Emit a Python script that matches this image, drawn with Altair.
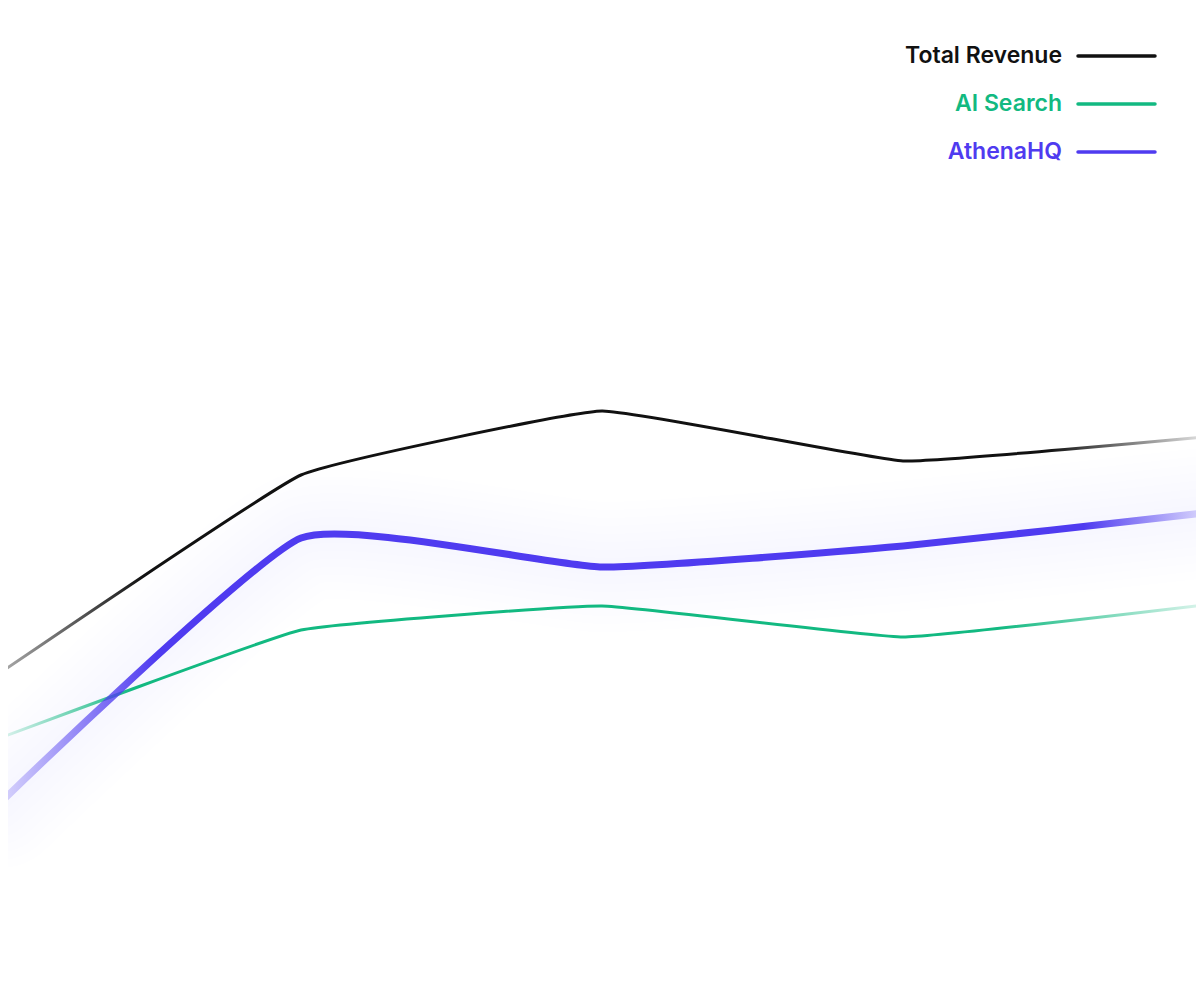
import altair as alt
import pandas as pd

# ---- data ----
period = [0, 1, 2, 3, 4]
total_revenue = [32.7, 52.5, 58.9, 53.9, 56.3]
ai_search = [26.2, 37.0, 39.4, 36.3, 39.5]
athenahq = [19.7, 46.2, 43.3, 45.4, 48.7]

series_names = ["Total Revenue", "AI Search", "AthenaHQ"]
series_colors = ["#111111", "#12B981", "#4F3BF0"]
glow_color = "#5D5CF2"

df = pd.DataFrame({
    "period": period * 3,
    "value": total_revenue + ai_search + athenahq,
    "series": sum([[n] * len(period) for n in series_names], []),
})

W, H = 1188, 984
x_scale = alt.Scale(domain=[8 / 301, 1196 / 301], nice=False, zero=False)
y_scale = alt.Scale(domain=[0.8, 99.2], nice=False, zero=False)


def rgba(hex_color, a):
    h = hex_color.lstrip("#")
    r, g, b = int(h[0:2], 16), int(h[2:4], 16), int(h[4:6], 16)
    return f"rgba({r},{g},{b},{a})"


def fade(color, a0, s0, s1, a1):
    return alt.Gradient(
        gradient="linear",
        x1=0, x2=1, y1=0, y2=0,
        stops=[
            alt.GradientStop(color=rgba(color, a0), offset=0),
            alt.GradientStop(color=rgba(color, 1), offset=s0),
            alt.GradientStop(color=rgba(color, 1), offset=s1),
            alt.GradientStop(color=rgba(color, a1), offset=1),
        ],
    )


def line_layer(name, stroke, width, opacity=1.0, tension=0.7):
    return (
        alt.Chart(df)
        .transform_filter(alt.datum.series == name)
        .mark_line(
            stroke=stroke,
            strokeWidth=width,
            strokeOpacity=opacity,
            interpolate="cardinal",
            tension=tension,
            strokeCap="round",
            strokeJoin="round",
            clip=True,
        )
        .encode(
            x=alt.X("period:Q", scale=x_scale, axis=None),
            y=alt.Y("value:Q", scale=y_scale, axis=None),
            order="period:Q",
        )
    )


layers = []
# soft glow around AthenaHQ (stacked translucent wide strokes)
for w in [18, 34, 50, 66, 82, 98, 114, 130]:
    layers.append(line_layer("AthenaHQ", glow_color, w, 0.0068, tension=0.55))

layers.append(line_layer("AI Search", fade(series_colors[1], 0.12, 0.11, 0.83, 0.15), 3))
layers.append(line_layer("Total Revenue", fade(series_colors[0], 0.35, 0.12, 0.87, 0.12), 3))
layers.append(line_layer("AthenaHQ", fade(series_colors[2], 0.18, 0.13, 0.90, 0.18), 7, tension=0.55))

# ---- legend (top right: label then line sample) ----
for i, (name, col) in enumerate(zip(series_names, series_colors)):
    ypos = 48 + 48 * i
    layers.append(
        alt.Chart(pd.DataFrame({"label": [name]}))
        .mark_text(
            align="right", baseline="middle", font="Inter", fontSize=23,
            fontWeight=600, color=col,
        )
        .encode(text="label:N", x=alt.value(1054), y=alt.value(ypos))
    )
    layers.append(
        alt.Chart(pd.DataFrame({"label": [name]}))
        .mark_rule(color=col, strokeWidth=3.5, strokeCap="round")
        .encode(x=alt.value(1070), x2=alt.value(1147), y=alt.value(ypos))
    )

chart = (
    alt.layer(*layers)
    .properties(width=W, height=H, padding=0, background="white")
    .configure_view(stroke=None)
)

chart.save("out.html", embed_options={"renderer": "svg", "actions": False})
